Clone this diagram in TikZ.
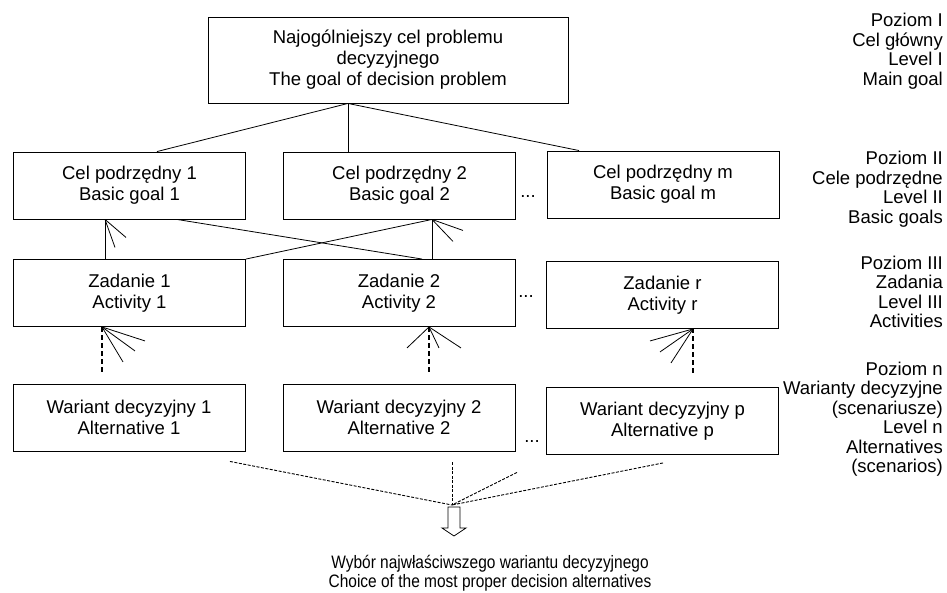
\documentclass[tikz,border=0pt]{standalone}
\usepackage{fontspec}
\setmainfont{Liberation Sans}
\newfontfamily\narrowsans[FakeStretch=0.86]{Liberation Sans}
\usetikzlibrary{calc}
\begin{document}
\begin{tikzpicture}[x=1pt,y=-1pt,
  box/.style={draw=black, line width=0.9pt, minimum width=232pt, minimum height=67pt,
    inner sep=0pt, align=center, font=\fontsize{18.5}{21}\selectfont},
  conn/.style={line width=0.8pt},
  dashv/.style={line width=1.4pt, dash pattern=on 5pt off 3pt},
  dashf/.style={line width=0.9pt, dash pattern=on 3pt off 1.5pt},
  lbl/.style={align=right, inner sep=0pt, anchor=east, font=\fontsize{18.5}{19.5}\selectfont},
  dotsnode/.style={inner sep=0pt, font=\fontsize{18.5}{21}\selectfont},
  result/.style={align=center, inner sep=0pt, font=\narrowsans\fontsize{18}{18.5}\selectfont}
]
\useasboundingbox (0,0) rectangle (947,593);

% boxes
\node[box, minimum width=360pt, minimum height=86pt] (top) at (388,60)
  {Najogólniejszy cel problemu\\decyzyjnego\\The goal of decision problem};
\node[box] (cel1) at (129.5,185.5) {Cel podrzędny 1\\Basic goal 1};
\node[box] (cel2) at (399.5,185.5) {Cel podrzędny 2\\Basic goal 2};
\node[box] (celm) at (663,184.5) {Cel podrzędny m\\Basic goal m};
\node[box] (zad1) at (129.5,293) {Zadanie 1\\Activity 1};
\node[box] (zad2) at (399,293) {Zadanie 2\\Activity 2};
\node[box] (zadr) at (662.5,295) {Zadanie r\\Activity r};
\node[box] (w1) at (129,417.5) {Wariant decyzyjny 1\\Alternative 1};
\node[box] (w2) at (399,417.5) {Wariant decyzyjny 2\\Alternative 2};
\node[box] (wp) at (662.5,421) {Wariant decyzyjny p\\Alternative p};

% ellipses
\node[dotsnode] (d1) at (528,197) {...};
\node[dotsnode] (d2) at (526,297) {...};
\node[dotsnode] (d3) at (532,442) {...};

% level labels
\node[lbl] (l1) at (943,51) {Poziom I\\Cel główny\\Level I\\Main goal};
\node[lbl] (l2) at (943,189) {Poziom II\\Cele podrzędne\\Level II\\Basic goals};
\node[lbl] (l3) at (943,292) {Poziom III\\Zadania\\Level III\\Activities};
\node[lbl] (l4) at (943,419) {Poziom n\\Warianty decyzyjne\\(scenariusze)\\Level n\\Alternatives\\(scenarios)};

% result text
\node[result] (res) at (490,573) {Wybór najwłaściwszego wariantu decyzyjnego\\Choice of the most proper decision alternatives};

% top to level II
\coordinate (tf) at ([xshift=-40pt]top.south);
\draw[conn] (tf) -- ([xshift=27.5pt]cel1.north);
\draw[conn] (tf) -- ([xshift=-51.5pt]cel2.north);
\draw[conn] (tf) -- ([xshift=-84pt]celm.north);

% level III to level II
\coordinate (a1) at ([xshift=-24.5pt]cel1.south);
\draw[conn] ([xshift=-24.5pt]zad1.north) -- (a1);
\draw[conn] (a1) -- ++(21,18);
\draw[conn] (a1) -- ++(10,28);
\coordinate (a2) at ([xshift=32.5pt]cel2.south);
\draw[conn] (zad1.north east) -- (a2);
\draw[conn] ([xshift=33pt]zad2.north) -- (a2);
\draw[conn] (a2) -- ++(31,11);
\draw[conn] (a2) -- ++(21,22);
\draw[conn] ([xshift=47.5pt]cel1.south) -- ([xshift=23pt]zad2.north);

% level n to level III (dashed)
\coordinate (b1) at ([xshift=-27.5pt]zad1.south);
\coordinate (s1) at ($(b1)+(0,45)$);
\draw[dashv] (s1) -- (b1);
\draw[conn] (b1) -- ++(43,14);
\draw[conn] (b1) -- ++(33,24);
\draw[conn] (b1) -- ++(21,35);
\coordinate (b2) at ([xshift=30pt]zad2.south);
\coordinate (s2) at ($(b2)+(0,45)$);
\draw[dashv] (s2) -- (b2);
\draw[conn] (b2) -- ++(-22,21);
\draw[conn] (b2) -- ++(10,21);
\draw[conn] (b2) -- ++(32,21);
\coordinate (b3) at ([xshift=30.5pt]zadr.south);
\coordinate (s3) at ($(b3)+(0,44)$);
\draw[dashv] (s3) -- (b3);
\draw[conn] (b3) -- ++(-43,12);
\draw[conn] (b3) -- ++(-33,23);
\draw[conn] (b3) -- ++(-22,34);

% fan to choice
\coordinate (c) at (452,505);
\coordinate (f1) at ($(w1.south)+(101,10)$);
\coordinate (f2) at ($(w2.south)+(53,11)$);
\coordinate (f3) at ($(w2.south)+(118,21)$);
\coordinate (f4) at ($(wp.south)+(0.5,8)$);
\draw[dashf] (f1) -- (c);
\draw[dashf] (f2) -- (c);
\draw[dashf] (f3) -- (c);
\draw[dashf] (f4) -- (c);

% hollow arrow
\draw[line width=0.8pt, fill=white] (448,507) -- (460,507) -- (460,528) -- (466,528)
  -- (454,536) -- (442,528) -- (448,528) -- cycle;
\end{tikzpicture}
\end{document}
